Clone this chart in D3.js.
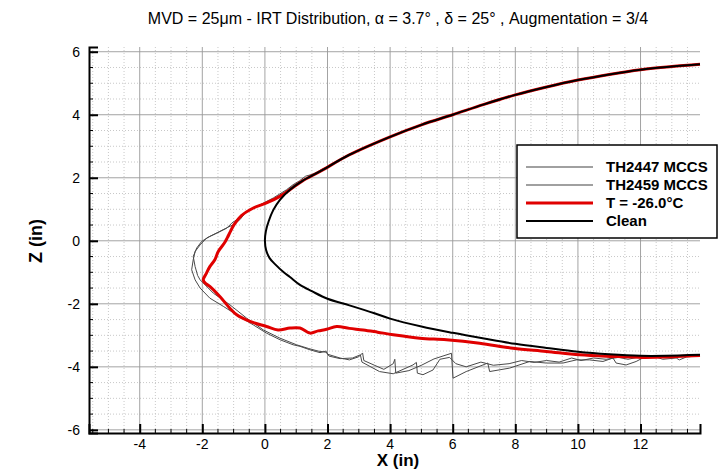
<!DOCTYPE html>
<html>
<head>
<meta charset="utf-8">
<script src="https://cdn.jsdelivr.net/npm/d3@7"></script>
<style>
  body { margin: 0; background: #fff; }
  text { font-family: "Liberation Sans", Arial, sans-serif; }
</style>
</head>
<body>
<div id="chart"></div>
<script>
// Clean airfoil (x, z) in inches, upper surface from nose to trailing edge
const cleanUpper = [[0,0],[0.03,0.3],[0.12,0.62],[0.27,0.98],[0.48,1.3],[0.8,1.62],[1.2,1.9],[1.76,2.2],
  [2.7,2.73],[4,3.3],[5,3.68],[6,4.0],[7,4.33],[8,4.63],[9,4.88],[10,5.1],[11,5.28],[12,5.43],[13,5.53],[13.9,5.6]];
const cleanLower = [[0,0],[0.04,-0.3],[0.15,-0.55],[0.33,-0.75],[0.6,-1.0],[0.8,-1.15],[1.12,-1.4],[1.5,-1.6],
  [2,-1.84],[2.7,-2.05],[3.5,-2.3],[4,-2.47],[5,-2.72],[6,-2.92],[7,-3.1],[8,-3.27],[9,-3.4],[10,-3.52],
  [11,-3.6],[12,-3.65],[12.8,-3.65],[13.9,-3.62]];

// Ice shape T = -26.0 C (leaves the clean upper surface near x = 0.8)
const iceRed = [[0.8,1.62],[0.48,1.41],[0.05,1.2],[-0.37,1.04],[-0.75,0.8],[-0.98,0.52],[-1.1,0.3],
  [-1.2,0.1],[-1.3,-0.08],[-1.49,-0.34],[-1.6,-0.6],[-1.76,-0.82],[-1.88,-1.05],[-1.97,-1.24],[-1.9,-1.35],[-1.76,-1.45],
  [-1.44,-1.77],[-1.12,-2.14],[-0.9,-2.35],[-0.48,-2.56],[0.05,-2.72],[0.42,-2.83],[0.8,-2.77],[1.12,-2.77],
  [1.44,-2.93],[1.7,-2.86],[1.97,-2.81],[2.29,-2.72],[2.7,-2.78],[3.14,-2.83],[3.6,-2.9],[4.1,-2.98],
  [4.95,-3.09],[5.8,-3.14],[6.86,-3.25],[7.93,-3.41],[8.99,-3.51],[10.05,-3.62],[11.12,-3.67],[12.07,-3.7],
  [12.7,-3.69],[13.9,-3.64]];

// MCCS tracings
const th2447 = [[3.0,2.87],[2.4,2.58],[1.9,2.3],[1.55,2.12],[1.3,2.05],[1.1,1.9],[0.9,1.78],[0.69,1.62],
  [0.27,1.36],[-0.16,1.14],[-0.53,0.98],[-0.74,0.77],[-0.9,0.67],[-1.06,0.56],[-1.22,0.4],[-1.54,0.24],
  [-1.86,0.09],[-2.07,-0.13],[-2.23,-0.34],[-2.29,-0.6],[-2.34,-0.92],[-2.23,-1.24],[-2.07,-1.5],[-1.76,-1.82],
  [-1.33,-2.08],[-0.9,-2.35],[-0.37,-2.67],[0.05,-2.93],[0.48,-3.14],[0.9,-3.3],[1.12,-3.35],[1.44,-3.46],
  [1.76,-3.55],[1.95,-3.5],[2.0,-3.6],[2.4,-3.72],[2.7,-3.78],[3.0,-3.68],[3.12,-3.56],[3.16,-3.8],[3.5,-3.95],
  [3.8,-4.08],[4.1,-3.9],[4.15,-3.76],[4.18,-4.2],[4.6,-4.12],[5.0,-3.95],[5.4,-3.75],[5.96,-3.57],[6.01,-4.36],
  [6.43,-4.15],[7.12,-3.88],[7.18,-4.15],[7.82,-4.04],[8.46,-3.83],[8.99,-3.88],[9.52,-3.88],[9.95,-3.78],
  [10.37,-3.78],[10.8,-3.83],[11.12,-3.72],[11.22,-3.88],[11.54,-3.94],[11.86,-3.83],[12.07,-3.72],[12.5,-3.69],
  [12.71,-3.76],[13.14,-3.72],[13.24,-3.78],[13.46,-3.69],[13.9,-3.64]];
const th2459 = [[3.0,2.87],[2.3,2.52],[1.8,2.25],[1.5,2.1],[1.2,1.92],[0.9,1.75],[0.58,1.51],[0.16,1.25],
  [-0.27,1.09],[-0.59,0.93],[-0.8,0.67],[-1.01,0.51],[-1.2,0.42],[-1.44,0.3],[-1.76,0.14],[-2.02,-0.02],
  [-2.18,-0.23],[-2.29,-0.5],[-2.23,-0.82],[-2.15,-1.1],[-2.07,-1.24],[-1.65,-1.66],[-1.12,-2.03],[-0.59,-2.45],
  [-0.05,-2.83],[0.48,-3.09],[1.01,-3.3],[1.4,-3.42],[1.7,-3.5],[1.97,-3.54],[2.05,-3.66],[2.4,-3.74],[2.8,-3.72],
  [3.05,-3.62],[3.1,-3.85],[3.66,-4.15],[4.1,-4.22],[4.73,-3.94],[4.84,-3.86],[4.87,-4.2],[5.05,-4.25],
  [5.37,-4.1],[5.59,-3.76],[5.9,-3.7],[6.1,-3.9],[6.43,-4.0],[6.9,-3.85],[7.3,-3.95],[7.8,-3.9],[8.2,-3.8],
  [8.6,-3.86],[9.0,-3.8],[9.4,-3.85],[9.8,-3.72],[10.1,-3.8],[10.5,-3.72],[10.9,-3.76],[11.3,-3.7],[11.6,-3.76],
  [12.0,-3.68],[12.4,-3.66],[12.9,-3.7],[13.3,-3.66],[13.9,-3.64]];

const xTicks = [-4, -2, 0, 2, 4, 6, 8, 10, 12];
const yTicks = [-6, -4, -2, 0, 2, 4, 6];
const legendLabels = ["TH2447 MCCS", "TH2459 MCCS", "T = -26.0°C", "Clean"];

const margin = {top: 47, right: 23, bottom: 37, left: 89};
const W = 723, H = 470;
const width = W - margin.left - margin.right;
const height = H - margin.top - margin.bottom;

const svg = d3.select("#chart").append("svg")
  .attr("width", W).attr("height", H);
const g = svg.append("g").attr("transform", `translate(${margin.left},${margin.top})`);

const x = d3.scaleLinear().domain([-5.62, 13.9]).range([0, width]);
const y = d3.scaleLinear().domain([-6.1, 6.15]).range([height, 0]);

// minor grid (dotted, every 0.5)
const xMinor = d3.range(-5.5, 13.9, 0.5).filter(v => Math.abs(v % 2) > 1e-6);
const yMinor = d3.range(-6, 6.1, 0.5).filter(v => Math.abs(v % 2) > 1e-6);
g.selectAll(".mx").data(xMinor).enter().append("line")
  .attr("x1", d => x(d)).attr("x2", d => x(d)).attr("y1", 0).attr("y2", height)
  .attr("stroke", "#c8c8c8").attr("stroke-dasharray", "1,2");
g.selectAll(".my").data(yMinor).enter().append("line")
  .attr("y1", d => y(d)).attr("y2", d => y(d)).attr("x1", 0).attr("x2", width)
  .attr("stroke", "#c8c8c8").attr("stroke-dasharray", "1,2");
// major grid
g.selectAll(".gx").data(xTicks).enter().append("line")
  .attr("x1", d => x(d)).attr("x2", d => x(d)).attr("y1", 0).attr("y2", height)
  .attr("stroke", "#999").attr("stroke-width", 0.9);
g.selectAll(".gy").data(yTicks).enter().append("line")
  .attr("y1", d => y(d)).attr("y2", d => y(d)).attr("x1", 0).attr("x2", width)
  .attr("stroke", "#999").attr("stroke-width", 0.9);

// axes with inward ticks, labels placed separately
const xAxis = g.append("g").attr("transform", `translate(0,${height})`)
  .call(d3.axisBottom(x).tickValues(xTicks).tickSize(-9).tickFormat(""));
const yAxis = g.append("g")
  .call(d3.axisLeft(y).tickValues(yTicks).tickSize(-9).tickFormat(""));
[xAxis, yAxis].forEach(a => {
  a.select(".domain").attr("stroke", "#000").attr("stroke-width", 2);
  a.selectAll(".tick line").attr("stroke", "#000").attr("stroke-width", 2);
});
g.selectAll(".mtx").data(xMinor).enter().append("line")
  .attr("x1", d => x(d)).attr("x2", d => x(d)).attr("y1", height).attr("y2", height - 4)
  .attr("stroke", "#000").attr("stroke-width", 1);
g.selectAll(".mty").data(yMinor).enter().append("line")
  .attr("y1", d => y(d)).attr("y2", d => y(d)).attr("x1", 0).attr("x2", 4)
  .attr("stroke", "#000").attr("stroke-width", 1);

g.selectAll(".xl").data(xTicks).enter().append("text")
  .attr("x", d => x(d)).attr("y", height + 15.5).attr("text-anchor", "middle")
  .attr("font-size", 14).text(d => d);
g.selectAll(".yl").data(yTicks).enter().append("text")
  .attr("x", -9).attr("y", d => y(d) + 5).attr("text-anchor", "end")
  .attr("font-size", 14).text(d => d);

// curves
const line = d3.line().x(d => x(d[0])).y(d => y(d[1]));
const smooth = d3.line().x(d => x(d[0])).y(d => y(d[1])).curve(d3.curveCatmullRom);
const cleanPath = cleanUpper.slice().reverse().concat(cleanLower.slice(1));
const redPath = cleanUpper.filter(d => d[0] > 0.8).reverse().concat(iceRed);

g.append("path").datum(th2447).attr("d", line).attr("fill", "none").attr("stroke", "#4a4a4a").attr("stroke-width", 1);
g.append("path").datum(th2459).attr("d", line).attr("fill", "none").attr("stroke", "#4a4a4a").attr("stroke-width", 1);
g.append("path").datum(redPath).attr("d", smooth).attr("fill", "none").attr("stroke", "#e00000")
  .attr("stroke-width", 3).attr("stroke-linejoin", "round");
g.append("path").datum(cleanPath).attr("d", smooth).attr("fill", "none").attr("stroke", "#000").attr("stroke-width", 2);

// title and axis labels
svg.append("text").attr("x", 398).attr("y", 24).attr("text-anchor", "middle").attr("font-size", 16)
  .text("MVD = 25μm - IRT Distribution, α = 3.7° , δ = 25° , Augmentation = 3/4");
svg.append("text").attr("x", 398).attr("y", 466).attr("text-anchor", "middle")
  .attr("font-size", 17).attr("font-weight", "bold").text("X (in)");
svg.append("text").attr("transform", "translate(42,241) rotate(-90)").attr("text-anchor", "middle")
  .attr("font-size", 18).attr("font-weight", "bold").text("Z (in)");

// legend
const legend = svg.append("g").attr("transform", "translate(517,145)");
legend.append("rect").attr("width", 200).attr("height", 93).attr("fill", "#fff")
  .attr("stroke", "#000").attr("stroke-width", 1.5);
const legendStyles = [
  {stroke: "#808080", w: 1.3}, {stroke: "#808080", w: 1.3}, {stroke: "#e00000", w: 3}, {stroke: "#000", w: 1.8}
];
legendLabels.forEach((lab, i) => {
  const yy = 22 + i * 18;
  legend.append("line").attr("x1", 9).attr("x2", 76).attr("y1", yy).attr("y2", yy)
    .attr("stroke", legendStyles[i].stroke).attr("stroke-width", legendStyles[i].w);
  legend.append("text").attr("x", 89).attr("y", yy + 5).attr("font-size", 15).attr("font-weight", "bold").text(lab);
});
</script>
</body>
</html>
